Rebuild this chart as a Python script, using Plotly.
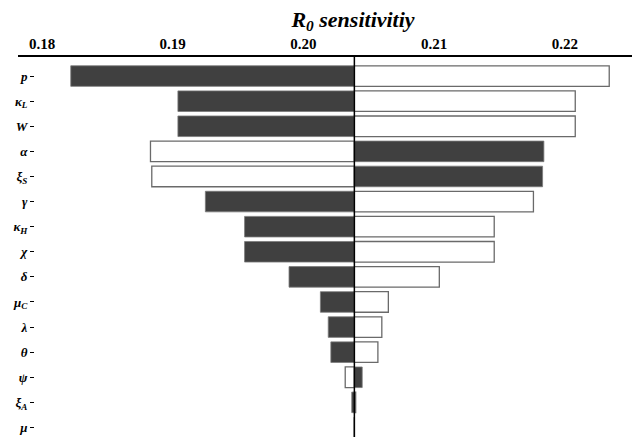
import plotly.graph_objects as go

# Tornado chart of R0 sensitivity to each model parameter
params = ["<i>p</i>", "<i>κ</i><sub><i>L</i></sub>", "<i>W</i>", "<i>α</i>",
          "<i>ξ</i><sub><i>S</i></sub>", "<i>γ</i>", "<i>κ</i><sub><i>H</i></sub>",
          "<i>χ</i>", "<i>δ</i>", "<i>μ</i><sub><i>C</i></sub>", "<i>λ</i>",
          "<i>θ</i>", "<i>ψ</i>", "<i>ξ</i><sub><i>A</i></sub>", "<i>μ</i>"]

baseline_r0 = 0.2039

# R0 when the parameter is lowered / raised
r0_low = [0.1822, 0.1904, 0.1904, 0.2184, 0.2183, 0.1925, 0.1955, 0.1955,
          0.1989, 0.2013, 0.2019, 0.2021, 0.2045, 0.2037, 0.2039]
r0_high = [0.2234, 0.2208, 0.2208, 0.1883, 0.1884, 0.2176, 0.2146, 0.2146,
           0.2104, 0.2065, 0.2060, 0.2057, 0.2032, 0.2040, 0.2039]

x_ticks = [0.18, 0.19, 0.20, 0.21, 0.22]

rows = list(range(len(params)))
serif = "Times New Roman, Liberation Serif, serif"

fig = go.Figure()
fig.add_trace(go.Bar(
    y=rows, x=[v - baseline_r0 for v in r0_high], base=baseline_r0,
    orientation="h", width=0.82,
    marker=dict(color="white", line=dict(color="#6a6a6a", width=1.3)),
    name="high", showlegend=False))
fig.add_trace(go.Bar(
    y=rows, x=[v - baseline_r0 for v in r0_low], base=baseline_r0,
    orientation="h", width=0.82,
    marker=dict(color="#404040", line=dict(color="#7a7a7a", width=0.8)),
    name="low", showlegend=False))

fig.add_shape(type="line", xref="x", yref="paper",
              x0=baseline_r0, x1=baseline_r0, y0=0, y1=1,
              line=dict(color="black", width=1.5), layer="above")

fig.update_layout(
    width=632, height=437,
    margin=dict(l=0, r=0, t=57, b=0),
    plot_bgcolor="white", paper_bgcolor="white",
    barmode="overlay",
    font=dict(family=serif, color="black"),
    title=dict(text="<b><i>R<sub>0</sub> sensitivitiy</i></b>",
               x=353 / 632, xanchor="center",
               y=1 - 19 / 437, yanchor="middle", yref="container",
               font=dict(family=serif, size=22, color="black")),
    xaxis=dict(side="top", domain=[18 / 632, 1],
               range=[0.178164, 0.225142],
               tickvals=x_ticks,
               ticktext=[f"<b>{v:.2f}</b>" for v in x_ticks],
               showline=True, linecolor="black", linewidth=1.5,
               showgrid=False, zeroline=False, ticks="",
               tickfont=dict(family=serif, size=15, color="black")),
    yaxis=dict(anchor="free", position=34 / 632,
               range=[14.38, -0.76],
               tickvals=rows, ticktext=[f"<b>{t}</b>" for t in params],
               ticks="outside", ticklen=4, tickwidth=1, tickcolor="black",
               showline=False, showgrid=False, zeroline=False,
               tickfont=dict(family=serif, size=13, color="black")),
)

fig.write_html("out.html")
